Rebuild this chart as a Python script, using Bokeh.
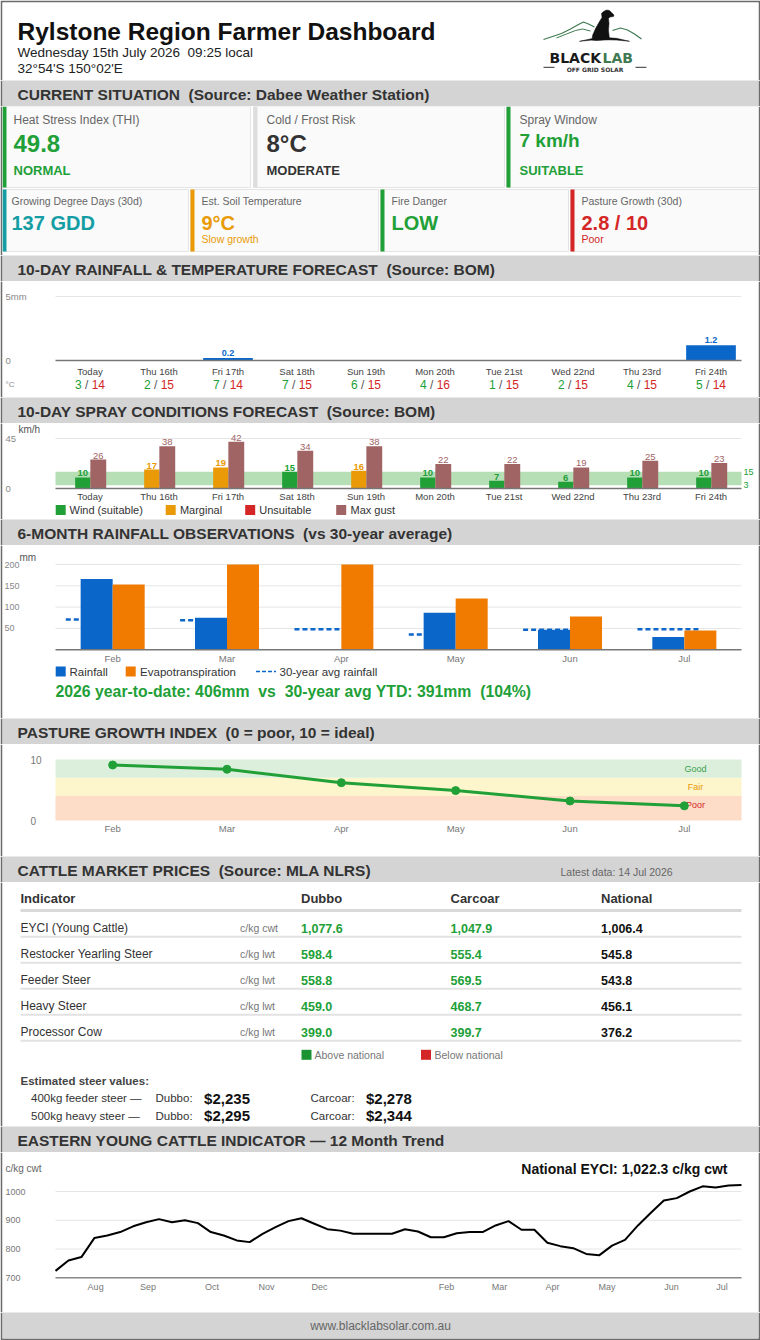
from bokeh.plotting import figure
from bokeh.layouts import column
from bokeh.models import Range1d
from bokeh.embed import file_html
from bokeh.resources import INLINE
from bokeh.core.properties import value

# ---------------- data ----------------
# 10-day forecast
days = ["Today", "Thu 16th", "Fri 17th", "Sat 18th", "Sun 19th",
        "Mon 20th", "Tue 21st", "Wed 22nd", "Thu 23rd", "Fri 24th"]
rain_mm = [0, 0, 0.2, 0, 0, 0, 0, 0, 0, 1.2]
temp_min = [3, 2, 7, 7, 6, 4, 1, 2, 4, 5]
temp_max = [14, 15, 14, 15, 15, 16, 15, 15, 15, 14]
rain_ticks = [0, 5]
rain_tick_text = ["0", "5mm"]

# spray conditions
wind_kmh = [10, 17, 19, 15, 16, 10, 7, 6, 10, 10]
gust_kmh = [26, 38, 42, 34, 38, 22, 22, 19, 25, 23]
spray_ok = [3, 15]          # suitable wind band (km/h)
spray_marginal_max = 20     # above this: unsuitable
spray_ticks = [0, 45]

# 6-month observations
months = ["Feb", "Mar", "Apr", "May", "Jun", "Jul"]
rainfall_mm = [166, 75, 1, 87, 47, 30]
evapo_mm = [153, 200, 200, 120, 78, 45]
avg_rain_mm = [71, 69, 48, 36, 47, 48]
obs_ticks = [50, 100, 150, 200]

# pasture growth index
pasture_index = [9.1, 8.4, 6.2, 4.9, 3.2, 2.4]
zone_names = ["Poor", "Fair", "Good"]
zone_lo = [0, 4, 7]
zone_hi = [4, 7, 10]

# cattle prices
indicators = ["EYCI (Young Cattle)", "Restocker Yearling Steer", "Feeder Steer",
              "Heavy Steer", "Processor Cow"]
units = ["c/kg cwt", "c/kg lwt", "c/kg lwt", "c/kg lwt", "c/kg lwt"]
dubbo = [1077.6, 598.4, 558.8, 459.0, 399.0]
carcoar = [1047.9, 555.4, 569.5, 468.7, 399.7]
national = [1006.4, 545.8, 543.8, 456.1, 376.2]

# EYCI weekly, last 12 months
eyci = [724, 760, 772, 838, 847, 859, 879, 893, 904, 893, 900, 890, 859, 847,
        830, 824, 853, 876, 897, 907, 888, 869, 864, 853, 853, 853, 853, 869,
        861, 841, 841, 855, 859, 859, 882, 897, 867, 867, 822, 810, 803, 783,
        778, 812, 832, 882, 926, 969, 977, 1000, 1018, 1014, 1021, 1022.3]
eyci_months = ["Aug", "Sep", "Oct", "Nov", "Dec", "Feb", "Mar", "Apr", "May", "Jun", "Jul"]
eyci_month_pos = [3.1, 7.15, 12.1, 16.3, 20.4, 30.2, 34.3, 38.4, 42.6, 47.6, 51.5]
eyci_ticks = [700, 800, 900, 1000]

# ---------------- styling ----------------
W = 760
FONT = "Liberation Sans"
EDGE = "#6b6b6b"
BAND = "#d4d4d4"
GRID = "#e6e6e6"
TICK = "#888888"
GREEN = "#21a038"
TEAL = "#149ea4"
ORANGE = "#e99a06"
RED = "#d42626"
BLUE = "#0a66c8"
ET = "#f07b00"
GUST = "#a06464"
LOGO_GREEN = "#3f7a52"
SP2 = "\u00a0 "   # double space that survives SVG whitespace collapsing


def make_fig(height, xr, yr, top=0, bottom=0, bg="white"):
    p = figure(width=W, height=height, x_range=xr, y_range=yr, title=None,
               output_backend="svg", toolbar_location=None,
               x_axis_location=None, y_axis_location=None,
               min_border=0, min_border_left=2, min_border_right=2,
               min_border_top=top, min_border_bottom=bottom,
               border_fill_color=EDGE, background_fill_color=bg,
               outline_line_color=None)
    p.grid.visible = False
    return p


def pix_fig(y0, y1, top=0, bottom=0, bg="white"):
    # page-pixel coordinates, y growing downwards
    return make_fig(y1 - y0, Range1d(2, W - 2), Range1d(y1 - bottom, y0 + top), top, bottom, bg)


def map_fig(y0, y1, px, dx, py, dy, top=0, bottom=0):
    # data figure: page pixels px[0]/px[1] hold data dx[0]/dx[1], same for y
    kx = (dx[1] - dx[0]) / (px[1] - px[0])
    ky = (dy[1] - dy[0]) / (py[1] - py[0])

    def fx(v):
        return dx[0] + (v - px[0]) * kx

    def fy(v):
        return dy[0] + (v - py[0]) * ky

    p = make_fig(y1 - y0, Range1d(fx(2), fx(W - 2)), Range1d(fy(y1 - bottom), fy(y0 + top)), top, bottom)
    return p, fx, fy


def label(p, x, y, s, size, color, bold=False, align="left", baseline="middle", font=FONT, **kw):
    p.text(x=[x], y=[y], text=[s], text_font=value(font), text_font_size=f"{size}px",
           text_color=color, text_font_style="bold" if bold else "normal",
           text_align=align, text_baseline=baseline, **kw)


def band(y0, y1, title, note=None):
    p = pix_fig(y0, y1, bg=BAND)
    label(p, 17, y0 + 13.8, title, 15.5, "#333333", bold=True)
    if note:
        label(p, 560, y0 + 15.5, note, 10.5, "#666666")
    return p


figs = []

# ---------------- header ----------------
h = pix_fig(0, 80, top=2)
label(h, 17, 31, "Rylstone Region Farmer Dashboard", 24.5, "#111111", bold=True, baseline="alphabetic")
label(h, 17, 52, "Wednesday 15th July 2026" + SP2 + "09:25 local", 13.5, "#222222", baseline="alphabetic")
label(h, 17, 67.5, "32°54'S 150°02'E", 13.5, "#222222", baseline="alphabetic")
# logo: hills, dog, wordmark
h.line([543, 552, 561, 570, 578, 583, 588, 594], [39, 36, 33, 28.5, 24, 21.5, 23.5, 26.5],
       line_color=LOGO_GREEN, line_width=1.2)
h.line([556, 566, 575, 582, 590], [37.5, 33.5, 30, 28.5, 30.5], line_color=LOGO_GREEN, line_width=1.0)
h.line([612, 620, 627, 634, 641], [30, 27.5, 29.5, 33.5, 38.5], line_color=LOGO_GREEN, line_width=1.2)
h.patch([579, 592, 604, 616, 629, 616, 604, 592], [40.8, 38.0, 37.0, 37.8, 40.8, 39.6, 39.2, 39.6],
        fill_color="#111111", line_color="#111111", line_width=0.5)
h.patch([603, 606, 609, 611, 613.5, 613, 609.5, 608, 608.5, 608, 609, 603, 596, 591.5, 592, 595, 599, 601.5, 601],
        [11, 9.5, 10, 12, 14.5, 16, 16.5, 18, 23, 30, 39, 39.5, 40, 39.5, 35, 28, 21, 17, 13],
        fill_color="#111111", line_color="#111111", line_width=0.5)
label(h, 549, 57, "BLACK", 14, "#1a1a1a", bold=True, baseline="alphabetic", font="DejaVu Sans")
label(h, 602, 57, "LAB", 14, LOGO_GREEN, bold=True, baseline="alphabetic", font="DejaVu Sans")
h.segment(x0=[543, 635], x1=[554, 646], y0=[66.8, 66.8], y1=[66.8, 66.8], line_color="#333333", line_width=1)
label(h, 594.5, 69.3, "OFF GRID SOLAR", 6, "#333333", bold=True, align="center", baseline="alphabetic",
      font="DejaVu Sans")
figs.append(h)

# ---------------- current situation ----------------
figs.append(band(80, 106, "CURRENT SITUATION" + SP2 + "(Source: Dabee Weather Station)"))
c = pix_fig(106, 255)
row1 = [
    (2, 250, 11, "Heat Stress Index (THI)", "49.8", 24, 143, "NORMAL", GREEN, GREEN),
    (253, 504, 13, "Cold / Frost Risk", "8°C", 24, 143, "MODERATE", "#dddddd", "#333333"),
    (506, 758, 13, "Spray Window", "7 km/h", 19, 140, "SUITABLE", GREEN, GREEN),
]
for x0, x1, off, ttl, val, vs, vy, status, accent, col in row1:
    c.quad(left=[x0], right=[x1], top=[106], bottom=[187], fill_color="#fafafa", line_color="#e4e4e4")
    c.quad(left=[x0], right=[x0 + 4], top=[106], bottom=[187], fill_color=accent, line_color=None)
    label(c, x0 + off, 119, ttl, 12, "#666666")
    label(c, x0 + off, vy, val, vs, col, bold=True)
    label(c, x0 + off, 169.5, status, 13, col, bold=True)
row2 = [
    (2, 188, 9, "Growing Degree Days (30d)", "137 GDD", "", TEAL),
    (190, 378, 11, "Est. Soil Temperature", "9°C", "Slow growth", ORANGE),
    (380, 568, 11, "Fire Danger", "LOW", "", GREEN),
    (570, 758, 11, "Pasture Growth (30d)", "2.8 / 10", "Poor", RED),
]
for x0, x1, off, ttl, val, sub, col in row2:
    c.quad(left=[x0], right=[x1], top=[189], bottom=[251], fill_color="#fafafa", line_color="#e4e4e4")
    c.quad(left=[x0], right=[x0 + 4], top=[189], bottom=[251], fill_color=col, line_color=None)
    label(c, x0 + off, 200.7, ttl, 10.5, "#666666")
    label(c, x0 + off, 222, val, 20, col, bold=True)
    if sub:
        label(c, x0 + off, 238.3, sub, 10.5, col)
figs.append(c)

# ---------------- 10-day rainfall & temperature ----------------
figs.append(band(255, 281, "10-DAY RAINFALL & TEMPERATURE FORECAST" + SP2 + "(Source: BOM)"))
n = len(days)
xc = [i + 0.5 for i in range(n)]
rp, fx, fy = map_fig(281, 397, (55, 745), (0, n), (360, 296), (0, 5))
grid_v = [t for t in rain_ticks if t > 0]
rp.segment(x0=[0] * len(grid_v), x1=[fx(741)] * len(grid_v), y0=grid_v, y1=grid_v,
           line_color=GRID, line_width=1)
rp.vbar(x=xc, width=0.72, top=rain_mm, bottom=0, fill_color=BLUE, line_color=None)
rp.segment(x0=[0], x1=[fx(741)], y0=[0], y1=[0], line_color="#777777", line_width=1.5)
rp.text(x=[fx(5)] * len(rain_ticks), y=rain_ticks, text=rain_tick_text, text_font=value(FONT),
        text_font_size="9.5px", text_color=TICK, text_baseline="middle")
wet = [(x, r) for x, r in zip(xc, rain_mm) if r > 0]
rp.text(x=[w[0] for w in wet], y=[w[1] for w in wet], text=[f"{w[1]:.1f}" for w in wet],
        text_font=value(FONT), text_font_size="9px", text_font_style="bold", text_color=BLUE,
        text_align="center", text_baseline="bottom", y_offset=-2)
rp.text(x=xc, y=[fy(371)] * n, text=days, text_font=value(FONT), text_font_size="9.5px",
        text_color="#444444", text_align="center", text_baseline="middle")
ty = [fy(384)] * n
rp.text(x=xc, y=ty, text=[str(v) for v in temp_min], text_font=value(FONT), text_font_size="12px",
        text_color=GREEN, text_align="right", text_baseline="middle", x_offset=-8.3)
rp.text(x=xc, y=ty, text=["/"] * n, text_font=value(FONT), text_font_size="12px",
        text_color="#555555", text_align="center", text_baseline="middle", x_offset=-3.3)
rp.text(x=xc, y=ty, text=[str(v) for v in temp_max], text_font=value(FONT), text_font_size="12px",
        text_color=RED, text_align="left", text_baseline="middle", x_offset=1.7)
label(rp, fx(5), fy(384), "°C", 8, TICK)
figs.append(rp)

# ---------------- 10-day spray conditions ----------------
figs.append(band(397, 423, "10-DAY SPRAY CONDITIONS FORECAST" + SP2 + "(Source: BOM)"))
sp, fx, fy = map_fig(423, 519, (55, 745), (0, n), (488, 438), (0, 45))
sp.segment(x0=[0], x1=[fx(741)], y0=[spray_ticks[1]], y1=[spray_ticks[1]], line_color=GRID, line_width=1)
sp.quad(left=[0], right=[fx(741)], bottom=[spray_ok[0]], top=[spray_ok[1]],
        fill_color="#b6dfb6", line_color=None)
wind_col = [GREEN if w <= spray_ok[1] else (ORANGE if w <= spray_marginal_max else RED) for w in wind_kmh]
wx = [x - 0.105 for x in xc]
gx = [x + 0.12 for x in xc]
sp.vbar(x=wx, width=0.22, top=wind_kmh, bottom=0, fill_color=wind_col, line_color=None)
sp.vbar(x=gx, width=0.23, top=gust_kmh, bottom=0, fill_color=GUST, line_color=None)
sp.segment(x0=[0], x1=[fx(741)], y0=[0], y1=[0], line_color="#777777", line_width=1.5)
sp.text(x=wx, y=wind_kmh, text=[str(v) for v in wind_kmh], text_font=value(FONT), text_font_size="9.5px",
        text_font_style="bold", text_color=wind_col, text_align="center", text_baseline="bottom", y_offset=-1)
sp.text(x=gx, y=gust_kmh, text=[str(v) for v in gust_kmh], text_font=value(FONT), text_font_size="9.5px",
        text_color=GUST, text_align="center", text_baseline="bottom", y_offset=-1)
sp.text(x=[fx(5)] * 2, y=spray_ticks, text=[str(t) for t in spray_ticks], text_font=value(FONT),
        text_font_size="9.5px", text_color=TICK, text_baseline="middle")
sp.text(x=[fx(743)] * 2, y=[spray_ok[1], spray_ok[0]], text=[str(spray_ok[1]), str(spray_ok[0])],
        text_font=value(FONT), text_font_size="9px", text_color=GREEN, text_baseline="middle")
label(sp, fx(18), fy(429), "km/h", 10, "#555555")
sp.text(x=xc, y=[fy(496)] * n, text=days, text_font=value(FONT), text_font_size="9.5px",
        text_color="#444444", text_align="center", text_baseline="middle")
leg = [("Wind (suitable)", GREEN, 60.2, 69), ("Marginal", ORANGE, 170.2, 179.4),
       ("Unsuitable", RED, 249.7, 258.8), ("Max gust", GUST, 340.7, 350)]
for name, col, sx, tx in leg:
    sp.scatter(x=[fx(sx)], y=[fy(509.5)], marker="square", size=10, fill_color=col, line_color=None)
    label(sp, fx(tx), fy(509.5), name, 11, "#333333")
figs.append(sp)

# ---------------- 6-month rainfall observations ----------------
figs.append(band(519, 545, "6-MONTH RAINFALL OBSERVATIONS" + SP2 + "(vs 30-year average)"))
m = len(months)
mc = [i + 0.5 for i in range(m)]
op, fx, fy = map_fig(545, 718, (55, 741), (0, m), (649.3, 564), (0, 200))
op.segment(x0=[0] * len(obs_ticks), x1=[m] * len(obs_ticks), y0=obs_ticks, y1=obs_ticks,
           line_color=GRID, line_width=1)
op.text(x=[fx(4)] * len(obs_ticks), y=obs_ticks, text=[str(t) for t in obs_ticks], text_font=value(FONT),
        text_font_size="9px", text_color=TICK, text_baseline="middle")
op.segment(x0=[x - 0.41 for x in mc], x1=[x + 0.14 for x in mc], y0=avg_rain_mm, y1=avg_rain_mm,
           line_color=BLUE, line_width=2.5, line_dash="5 3")
op.vbar(x=[x - 0.14 for x in mc], width=0.28, top=rainfall_mm, bottom=0, fill_color=BLUE, line_color=None)
op.vbar(x=[x + 0.14 for x in mc], width=0.28, top=evapo_mm, bottom=0, fill_color=ET, line_color=None)
op.segment(x0=[0], x1=[m], y0=[0], y1=[0], line_color="#777777", line_width=1.5)
label(op, fx(19), fy(557), "mm", 10, "#555555")
op.text(x=mc, y=[fy(658)] * m, text=months, text_font=value(FONT), text_font_size="9.5px",
        text_color="#777777", text_align="center", text_baseline="middle")
op.scatter(x=[fx(60.2), fx(130.2)], y=[fy(671)] * 2, marker="square", size=10,
           fill_color=[BLUE, ET], line_color=None)
label(op, fx(69), fy(671), "Rainfall", 11.5, "#333333")
label(op, fx(139.6), fy(671), "Evapotranspiration", 11.5, "#333333")
op.segment(x0=[fx(255.5)], x1=[fx(275.5)], y0=[fy(671)], y1=[fy(671)], line_color=BLUE,
           line_width=1.5, line_dash="4 2")
label(op, fx(279), fy(671), "30-year avg rainfall", 11.5, "#333333")
ytd = ("2026 year-to-date: 406mm" + SP2 + "vs" + SP2 + "30-year avg YTD: 391mm" + SP2 + "(104%)")
label(op, fx(55), fy(690.7), ytd, 15.8, GREEN, bold=True)
figs.append(op)

# ---------------- pasture growth ----------------
figs.append(band(718, 744, "PASTURE GROWTH INDEX" + SP2 + "(0 = poor, 10 = ideal)"))
pp, fx, fy = map_fig(744, 856, (55, 741), (0, m), (820, 759), (0, 10))
zone_fill = {"Poor": "#fddcc8", "Fair": "#fdf5cc", "Good": "#dcefdc"}
zone_text = {"Poor": RED, "Fair": ORANGE, "Good": "#3aa04e"}
pp.quad(left=[0] * 3, right=[m] * 3, bottom=zone_lo, top=zone_hi,
        fill_color=[zone_fill[z] for z in zone_names], line_color=None)
pp.text(x=[fx(695)] * 3, y=[hi - 1.5 for hi in zone_hi], text=zone_names, text_font=value(FONT),
        text_font_size="9px", text_color=[zone_text[z] for z in zone_names],
        text_align="center", text_baseline="middle")
pp.line(x=mc, y=pasture_index, line_color=GREEN, line_width=3)
pp.scatter(x=mc, y=pasture_index, size=8, fill_color=GREEN, line_color=GREEN)
pp.text(x=[fx(30)] * 2, y=[10, 0], text=["10", "0"], text_font=value(FONT), text_font_size="10px",
        text_color="#777777", text_baseline="middle")
pp.text(x=mc, y=[fy(828.3)] * m, text=months, text_font=value(FONT), text_font_size="9.5px",
        text_color="#777777", text_align="center", text_baseline="middle")
figs.append(pp)

# ---------------- cattle market prices ----------------
figs.append(band(856, 882, "CATTLE MARKET PRICES" + SP2 + "(Source: MLA NLRS)", note="Latest data: 14 Jul 2026"))
t = pix_fig(882, 1126)
cols_x = [300.5, 450, 600.5]
label(t, 20, 897.7, "Indicator", 13, "#333333", bold=True)
for x, name in zip(cols_x, ["Dubbo", "Carcoar", "National"]):
    label(t, x, 897.7, name, 13, "#333333", bold=True)
t.segment(x0=[20], x1=[741], y0=[910], y1=[910], line_color="#d9d9d9", line_width=3)
row_y = [927.7 + 26 * i for i in range(len(indicators))]
t.text(x=[20] * len(indicators), y=row_y, text=indicators, text_font=value(FONT), text_font_size="12px",
       text_color="#333333", text_baseline="middle")
t.text(x=[239.5] * len(indicators), y=row_y, text=units, text_font=value(FONT), text_font_size="10.5px",
       text_color="#777777", text_baseline="middle")
for x, vals in zip(cols_x[:2], [dubbo, carcoar]):
    t.text(x=[x] * len(vals), y=row_y, text=[f"{v:,.1f}" for v in vals], text_font=value(FONT),
           text_font_size="12.5px", text_font_style="bold",
           text_color=[GREEN if v > nv else RED for v, nv in zip(vals, national)], text_baseline="middle")
t.text(x=[cols_x[2]] * len(national), y=row_y, text=[f"{v:,.1f}" for v in national], text_font=value(FONT),
       text_font_size="12.5px", text_font_style="bold", text_color="#111111", text_baseline="middle")
sep_y = [y + 8.5 for y in row_y]
t.segment(x0=[20] * len(sep_y), x1=[741] * len(sep_y), y0=sep_y, y1=sep_y, line_color="#e2e2e2", line_width=2)
t.scatter(x=[306, 425.5], y=[1054.3] * 2, marker="square", size=10, fill_color=["#1a9432", RED], line_color=None)
label(t, 314, 1054.3, "Above national", 10.5, "#777777")
label(t, 434, 1054.3, "Below national", 10.5, "#777777")
label(t, 20, 1080, "Estimated steer values:", 11.5, "#444444", bold=True)
steers = [("400kg feeder steer —", 400, 2), ("500kg heavy steer —", 500, 3)]
for (name, kg, idx), y in zip(steers, [1097.7, 1115]):
    label(t, 30.5, y, name, 11.5, "#333333")
    label(t, 155, y, "Dubbo:", 11.5, "#333333")
    label(t, 203.6, y, f"${kg * dubbo[idx] / 100:,.0f}", 15, "#111111", bold=True)
    label(t, 310, y, "Carcoar:", 11.5, "#333333")
    label(t, 365.5, y, f"${kg * carcoar[idx] / 100:,.0f}", 15, "#111111", bold=True)
figs.append(t)

# ---------------- EYCI trend ----------------
figs.append(band(1126, 1152, "EASTERN YOUNG CATTLE INDICATOR — 12 Month Trend"))
k = len(eyci)
ep, fx, fy = map_fig(1152, 1312, (55, 741), (0, k - 1), (1277.3, 1191), (700, 1000))
gl = [v for v in eyci_ticks if v > eyci_ticks[0]]
ep.segment(x0=[0] * len(gl), x1=[k - 1] * len(gl), y0=gl, y1=gl, line_color=GRID, line_width=1)
ep.segment(x0=[0], x1=[k - 1], y0=[eyci_ticks[0]], y1=[eyci_ticks[0]], line_color="#888888", line_width=1.5)
ep.text(x=[fx(5)] * len(eyci_ticks), y=eyci_ticks, text=[str(v) for v in eyci_ticks], text_font=value(FONT),
        text_font_size="9px", text_color="#777777", text_baseline="middle")
ep.line(x=list(range(k)), y=eyci, line_color="#000000", line_width=2)
label(ep, fx(5), fy(1168), "c/kg cwt", 10, "#666666")
label(ep, fx(727), fy(1168), f"National EYCI: {eyci[-1]:,.1f} c/kg cwt", 14, "#111111", bold=True, align="right")
ep.text(x=eyci_month_pos, y=[fy(1286.3)] * len(eyci_months), text=eyci_months, text_font=value(FONT),
        text_font_size="9px", text_color="#777777", text_align="center", text_baseline="middle")
figs.append(ep)

# ---------------- footer ----------------
f = pix_fig(1312, 1340, bottom=2, bg=BAND)
label(f, 380, 1325, "www.blacklabsolar.com.au", 12, "#666666", align="center")
figs.append(f)

page = column(*figs, spacing=0)
open("out.html", "w").write(file_html(page, INLINE))
